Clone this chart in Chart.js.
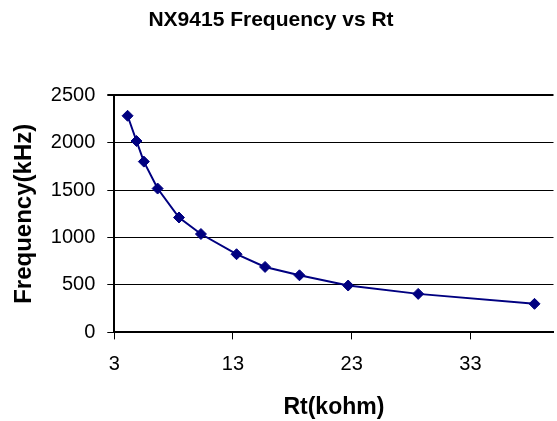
<!DOCTYPE html>
<html>
<head>
<meta charset="utf-8">
<script src="https://cdn.jsdelivr.net/npm/chart.js@4/dist/chart.umd.min.js"></script>
<style>
html,body{margin:0;padding:0;background:#fff;overflow:hidden;width:557px;height:421px;}
canvas{display:block;}
</style>
</head>
<body>
<canvas id="c" width="560" height="421"></canvas>
<script>
const rtValues = [4.12, 4.87, 5.49, 6.65, 8.45, 10.3, 13.3, 15.7, 18.6, 22.7, 28.6, 38.4];
const freqValues = [2283, 2017, 1800, 1516, 1211, 1037, 824, 690, 602, 494, 406, 301];
const xTickValues = [3, 13, 23, 33];
const yTickValues = [0, 500, 1000, 1500, 2000, 2500];
const chartTitle = 'NX9415 Frequency vs Rt';
const xTitle = 'Rt(kohm)';
const yTitle = 'Frequency(kHz)';

const FONT = '"Liberation Sans", Arial, sans-serif';
const points = rtValues.map((x, i) => ({x: x, y: freqValues[i]}));

const titleShift = {
  id: 'titleShift',
  afterLayout(chart) {
    const t = chart.titleBlock;
    if (t) { t.left -= 8; t.right -= 8; }
  }
};

new Chart(document.getElementById('c'), {
  type: 'scatter',
  data: {
    datasets: [{
      data: points,
      showLine: true,
      borderColor: '#000080',
      backgroundColor: '#000080',
      borderWidth: 2,
      pointStyle: 'rectRot',
      pointRadius: 5.5,
      pointBorderWidth: 1,
      pointBorderColor: '#000080',
      pointBackgroundColor: '#000080',
      tension: 0
    }]
  },
  plugins: [titleShift],
  options: {
    responsive: false,
    animation: false,
    layout: {padding: {left: 0, right: 2, top: 0, bottom: 0}},
    plugins: {
      legend: {display: false},
      tooltip: {enabled: false},
      title: {
        display: true,
        text: chartTitle,
        color: '#000',
        font: {family: FONT, size: 21, weight: 'bold', lineHeight: 1.2},
        padding: {top: 8, bottom: 62}
      }
    },
    scales: {
      x: {
        type: 'linear',
        min: 3,
        max: 40,
        afterBuildTicks: (axis) => { axis.ticks = xTickValues.map(v => ({value: v})); },
        ticks: {
          color: '#000',
          font: {family: FONT, size: 20, lineHeight: 1.2},
          padding: 13,
          maxRotation: 0,
          autoSkip: false,
          callback: (v) => String(v)
        },
        grid: {
          drawOnChartArea: false,
          drawTicks: true,
          tickLength: 7,
          color: '#000',
          lineWidth: 1
        },
        border: {display: true, color: '#000', width: 2},
        title: {
          display: true,
          text: xTitle,
          color: '#000',
          font: {family: FONT, size: 23, weight: 'bold', lineHeight: 1.2},
          padding: {top: 4, bottom: 0}
        }
      },
      y: {
        type: 'linear',
        min: 0,
        max: 2500,
        afterBuildTicks: (axis) => { axis.ticks = yTickValues.map(v => ({value: v})); },
        ticks: {
          color: '#000',
          font: {family: FONT, size: 20, lineHeight: 1.2},
          padding: 12,
          autoSkip: false,
          callback: (v) => String(v)
        },
        grid: {
          drawOnChartArea: true,
          drawTicks: true,
          tickLength: 7,
          color: '#000',
          lineWidth: (ctx) => (ctx.tick && ctx.tick.value === 2500 ? 2 : 1)
        },
        border: {display: true, color: '#000', width: 2},
        title: {
          display: true,
          text: yTitle,
          color: '#000',
          font: {family: FONT, size: 24, weight: 'bold', lineHeight: 1.2},
          padding: {top: 10, bottom: 0}
        }
      }
    }
  }
});
</script>
</body>
</html>
